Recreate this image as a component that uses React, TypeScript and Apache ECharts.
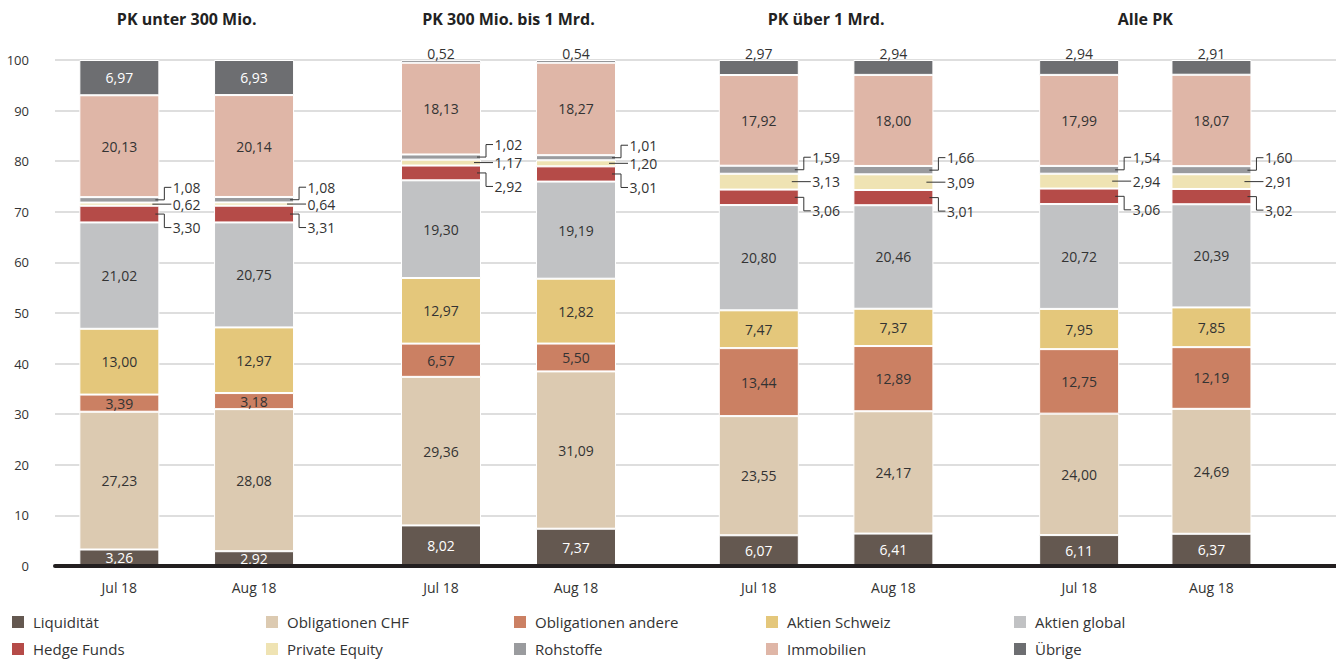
import React, { useEffect, useRef } from "react";
import * as echarts from "echarts";

// ---------- data ----------
const categories = ["Jul 18", "Aug 18"];
const groupTitles = ["PK unter 300 Mio.", "PK 300 Mio. bis 1 Mrd.", "PK über 1 Mrd.", "Alle PK"];
// values per bar, in order: G1 Jul, G1 Aug, G2 Jul, G2 Aug, G3 Jul, G3 Aug, G4 Jul, G4 Aug
const liquiditaet = [3.26, 2.92, 8.02, 7.37, 6.07, 6.41, 6.11, 6.37];
const obligationenCHF = [27.23, 28.08, 29.36, 31.09, 23.55, 24.17, 24.0, 24.69];
const obligationenAndere = [3.39, 3.18, 6.57, 5.5, 13.44, 12.89, 12.75, 12.19];
const aktienSchweiz = [13.0, 12.97, 12.97, 12.82, 7.47, 7.37, 7.95, 7.85];
const aktienGlobal = [21.02, 20.75, 19.3, 19.19, 20.8, 20.46, 20.72, 20.39];
const hedgeFunds = [3.3, 3.31, 2.92, 3.01, 3.06, 3.01, 3.06, 3.02];
const privateEquity = [0.62, 0.64, 1.17, 1.2, 3.13, 3.09, 2.94, 2.91];
const rohstoffe = [1.08, 1.08, 1.02, 1.01, 1.59, 1.66, 1.54, 1.6];
const immobilien = [20.13, 20.14, 18.13, 18.27, 17.92, 18.0, 17.99, 18.07];
const uebrige = [6.97, 6.93, 0.52, 0.54, 2.97, 2.94, 2.94, 2.91];

const yMin = 0;
const yMax = 100;
const yInterval = 10;

// ---------- styles ----------
const FONT = "'Open Sans', 'Noto Sans', sans-serif";
const TEXT = "#333333";
const BAR_W = 80;

type Mode = "inside" | "leaderDown" | "leaderStraight" | "leaderUp" | "topIfSmall";
const SERIES: { name: string; data: number[]; color: string; mode: Mode; textColor: string }[] = [
  { name: "Liquidität", data: liquiditaet, color: "#645850", mode: "inside", textColor: "#ffffff" },
  { name: "Obligationen CHF", data: obligationenCHF, color: "#dccab1", mode: "inside", textColor: TEXT },
  { name: "Obligationen andere", data: obligationenAndere, color: "#cb8063", mode: "inside", textColor: TEXT },
  { name: "Aktien Schweiz", data: aktienSchweiz, color: "#e4c77b", mode: "inside", textColor: TEXT },
  { name: "Aktien global", data: aktienGlobal, color: "#c1c2c4", mode: "inside", textColor: TEXT },
  { name: "Hedge Funds", data: hedgeFunds, color: "#b54b48", mode: "leaderDown", textColor: TEXT },
  { name: "Private Equity", data: privateEquity, color: "#efe3b3", mode: "leaderStraight", textColor: TEXT },
  { name: "Rohstoffe", data: rohstoffe, color: "#9a9b9e", mode: "leaderUp", textColor: TEXT },
  { name: "Immobilien", data: immobilien, color: "#dfb6a7", mode: "inside", textColor: TEXT },
  { name: "Übrige", data: uebrige, color: "#6d6e71", mode: "topIfSmall", textColor: "#ffffff" },
];

const legendColumns = [
  ["Liquidität", "Hedge Funds"],
  ["Obligationen CHF", "Private Equity"],
  ["Obligationen andere", "Rohstoffe"],
  ["Aktien Schweiz", "Immobilien"],
  ["Aktien global", "Übrige"],
];
const legendLefts = [10, 264, 512, 764, 1012];
const legendTops = [614, 641];

const gridLefts = [52, 373.5, 691.5, 1013];
const gridWidths = [269.4, 270, 269.2, 264.6];

const fmt = (v: number) => v.toFixed(2).replace(".", ",");

function buildOption() {
  const grids: any[] = [{ left: 55, right: 0, top: 60, bottom: 93 }];
  const xAxes: any[] = [
    {
      gridIndex: 0,
      type: "value",
      min: 0,
      max: 1,
      z: 10,
      axisLine: { show: true, lineStyle: { color: "#231f20", width: 4 } },
      axisTick: { show: false },
      axisLabel: { show: false },
      splitLine: { show: false },
    },
  ];
  const yAxes: any[] = [
    {
      gridIndex: 0,
      type: "value",
      min: yMin,
      max: yMax,
      interval: yInterval,
      axisLine: { show: false },
      axisTick: { show: false },
      axisLabel: { color: TEXT, fontSize: 13, fontFamily: FONT, margin: 26 },
      splitLine: { show: true, lineStyle: { color: "#d3d3d3", width: 1.5 } },
    },
  ];
  const series: any[] = [];
  const titles: any[] = [];

  for (let g = 0; g < 4; g++) {
    const gi = g + 1;
    grids.push({ left: gridLefts[g], width: gridWidths[g], top: 60, bottom: 93 });
    xAxes.push({
      gridIndex: gi,
      type: "category",
      data: categories,
      axisLine: { show: false },
      axisTick: { show: false },
      axisLabel: { color: TEXT, fontSize: 14, fontFamily: FONT, margin: 14 },
      splitLine: { show: false },
    });
    yAxes.push({
      gridIndex: gi,
      type: "value",
      min: yMin,
      max: yMax,
      show: false,
      splitLine: { show: false },
    });
    titles.push({
      text: groupTitles[g],
      left: gridLefts[g] + gridWidths[g] / 2,
      top: 11,
      padding: 0,
      textAlign: "center",
      textStyle: { fontFamily: FONT, fontSize: 16, fontWeight: "bold", color: "#222222" },
    });

    const leaderData: any[] = [];
    const base = [0, 0];
    SERIES.forEach((s) => {
      const vals = [s.data[2 * g], s.data[2 * g + 1]];
      const data = vals.map((v, ci) => {
        const item: any = { value: v };
        if (s.mode === "inside") {
          item.label = { show: true, position: "inside", color: s.textColor };
        } else if (s.mode === "topIfSmall") {
          if (v >= 5) item.label = { show: true, position: "inside", color: s.textColor };
          else item.label = { show: true, position: "top", distance: 0, color: TEXT, lineHeight: 14 };
        } else {
          item.label = { show: false };
          const kind = s.mode === "leaderDown" ? 0 : s.mode === "leaderStraight" ? 1 : 2;
          leaderData.push([ci, base[ci], v, kind]);
        }
        base[ci] += v;
        return item;
      });
      series.push({
        type: "bar",
        name: s.name,
        xAxisIndex: gi,
        yAxisIndex: gi,
        stack: "g" + g,
        barWidth: BAR_W,
        data,
        itemStyle: { color: s.color, borderColor: "#ffffff", borderWidth: 1 },
        label: {
          fontFamily: FONT,
          fontSize: 14,
          formatter: (p: any) => fmt(p.value),
        },
        emphasis: { disabled: true },
      });
    });

    series.push({
      type: "custom",
      xAxisIndex: gi,
      yAxisIndex: gi,
      silent: true,
      z: 5,
      clip: false,
      data: leaderData,
      renderItem: (params: any, api: any) => {
        const cat = api.value(0);
        const b = api.value(1);
        const v = api.value(2);
        const kind = api.value(3);
        const p = api.coord([cat, b + v / 2]);
        const right = p[0] + BAR_W / 2;
        const y = p[1];
        const dy = kind === 0 ? 13.5 : kind === 2 ? -12.5 : 0;
        const points =
          kind === 1
            ? [
                [right - 7, y],
                [right + 12, y],
              ]
            : [
                [right - 4, y],
                [right + 5, y],
                [right + 5, y + dy],
                [right + 12, y + dy],
              ];
        return {
          type: "group",
          children: [
            {
              type: "polyline",
              shape: { points },
              style: { stroke: "#333333", lineWidth: 1, fill: null },
            },
            {
              type: "text",
              x: right + 13.5,
              y: y + dy,
              style: {
                text: fmt(v),
                fill: TEXT,
                font: `14px ${FONT}`,
                align: "left",
                verticalAlign: "middle",
              },
            },
          ],
        };
      },
    });
  }

  const legends: any[] = [];
  legendColumns.forEach((names, i) => {
    names.forEach((name, r) => {
      legends.push({
        orient: "horizontal",
        left: legendLefts[i],
        top: legendTops[r],
        padding: 0,
        itemWidth: 14,
        itemHeight: 14,
        icon: "rect",
        selectedMode: false,
        data: [name],
        textStyle: {
          fontFamily: FONT,
          fontSize: 15,
          color: TEXT,
          lineHeight: 14,
          padding: [0, 0, 0, 3],
        },
      });
    });
  });

  return {
    animation: false,
    title: titles,
    grid: grids,
    xAxis: xAxes,
    yAxis: yAxes,
    legend: legends,
    series,
  };
}

export default function App() {
  const ref = useRef<HTMLDivElement>(null);
  useEffect(() => {
    if (!ref.current) return;
    const chart = echarts.init(ref.current, undefined, { renderer: "svg" });
    chart.setOption(buildOption() as any);
    return () => chart.dispose();
  }, []);
  return (
    <div
      ref={ref}
      style={{ position: "fixed", left: 0, top: 0, width: 1336, height: 659, background: "#ffffff" }}
    />
  );
}
